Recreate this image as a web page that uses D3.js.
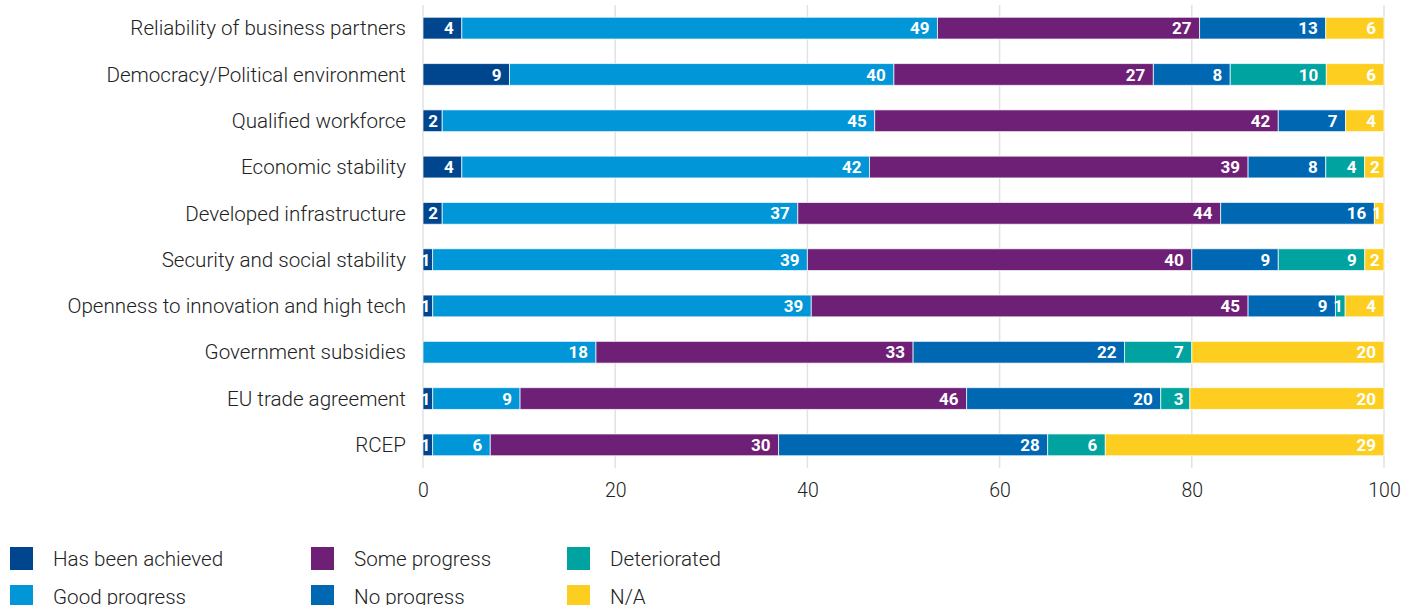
<!DOCTYPE html>
<html>
<head>
<meta charset="utf-8">
<script src="https://cdn.jsdelivr.net/npm/d3@7"></script>
<style>
  html, body { margin: 0; padding: 0; background: #fff; }
  svg { display: block; }
</style>
</head>
<body>
<svg id="chart" width="1416" height="605"></svg>
<script>
const categories = [
  "Reliability of business partners",
  "Democracy/Political environment",
  "Qualified workforce",
  "Economic stability",
  "Developed infrastructure",
  "Security and social stability",
  "Openness to innovation and high tech",
  "Government subsidies",
  "EU trade agreement",
  "RCEP"
];
const seriesNames = ["Has been achieved", "Good progress", "Some progress", "No progress", "Deteriorated", "N/A"];
const hasBeenAchieved = [4, 9, 2, 4, 2, 1, 1, 0, 1, 1];
const goodProgress    = [49, 40, 45, 42, 37, 39, 39, 18, 9, 6];
const someProgress    = [27, 27, 42, 39, 44, 40, 45, 33, 46, 30];
const noProgress      = [13, 8, 7, 8, 16, 9, 9, 22, 20, 28];
const deteriorated    = [0, 10, 0, 4, 0, 9, 1, 7, 3, 6];
const notApplicable   = [6, 6, 4, 2, 1, 2, 4, 20, 20, 29];
const tickValues = [0, 20, 40, 60, 80, 100];
const colors = ["#00468e", "#0096d7", "#6e2077", "#0068b2", "#00a3a0", "#fdce20"];

const seriesArrays = [hasBeenAchieved, goodProgress, someProgress, noProgress, deteriorated, notApplicable];
const rows = categories.map((c, i) => {
  const r = { category: c };
  seriesNames.forEach((s, j) => r[s] = seriesArrays[j][i]);
  return r;
});

const FONT = "Roboto, 'Liberation Sans', sans-serif";
const svg = d3.select("#chart");
const x = d3.scaleLinear().domain([0, 100]).range([423, 1384]);
const y = d3.scaleBand().domain(categories).range([5, 468]).paddingInner(0.53).paddingOuter(0.265);

const stack = d3.stack().keys(seriesNames).offset(d3.stackOffsetExpand);
const stacked = stack(rows);

// gridlines
svg.append("g").selectAll("line").data(tickValues).join("line")
  .attr("x1", d => x(d)).attr("x2", d => x(d))
  .attr("y1", 5).attr("y2", 468)
  .attr("stroke", "#e2e2e2").attr("stroke-width", 1.5);

// axis labels
const axis = d3.axisBottom(x).tickValues(tickValues).tickSize(0).tickPadding(0).tickFormat(d3.format("d"));
const ag = svg.append("g").attr("transform", "translate(0,480)").call(axis);
ag.select(".domain").remove();
ag.selectAll("text")
  .attr("font-family", FONT)
  .attr("font-weight", 300)
  .attr("font-size", 19.5)
  .attr("fill", "#222")
  .attr("dy", "0.85em");

// category labels
svg.append("g").selectAll("text").data(categories).join("text")
  .attr("x", 406)
  .attr("y", d => y(d) + y.bandwidth() / 2)
  .attr("dy", "0.35em")
  .attr("text-anchor", "end")
  .attr("font-family", FONT)
  .attr("font-weight", 300)
  .attr("font-size", 20.6)
  .attr("fill", "#222")
  .text(d => d);

// bars
const layers = svg.append("g").selectAll("g").data(stacked).join("g")
  .attr("fill", (d, i) => colors[i]);

layers.selectAll("rect").data(d => d.map(v => ({ v, key: d.key }))).join("rect")
  .filter(d => d.v[1] - d.v[0] > 0)
  .attr("x", d => x(d.v[0] * 100))
  .attr("width", d => x(d.v[1] * 100) - x(d.v[0] * 100))
  .attr("y", d => y(d.v.data.category))
  .attr("height", y.bandwidth())
  .attr("stroke", "#ffffff")
  .attr("stroke-opacity", 0.7)
  .attr("stroke-width", 1);

// value labels
layers.selectAll("text").data(d => d.map(v => ({ v, key: d.key }))).join("text")
  .filter(d => d.v.data[d.key] > 0)
  .attr("x", d => {
    const w = x(d.v[1] * 100) - x(d.v[0] * 100);
    return x(d.v[1] * 100) - Math.min(8, w * 0.22);
  })
  .attr("y", d => y(d.v.data.category) + y.bandwidth() / 2)
  .attr("dy", "0.36em")
  .attr("text-anchor", "end")
  .attr("font-family", FONT)
  .attr("font-weight", 700)
  .attr("font-size", 17)
  .attr("fill", "#ffffff")
  .text(d => d.v.data[d.key]);

// legend
const legendPos = [[10, 547], [10, 585], [311, 547], [311, 585], [567, 547], [567, 585]];
const legendOrder = ["Has been achieved", "Good progress", "Some progress", "No progress", "Deteriorated", "N/A"];
const lg = svg.append("g").selectAll("g").data(legendOrder).join("g")
  .attr("transform", (d, i) => `translate(${legendPos[i][0]},${legendPos[i][1]})`);
lg.append("rect").attr("width", 23).attr("height", 23)
  .attr("fill", d => colors[seriesNames.indexOf(d)]);
lg.append("text").attr("x", 43).attr("y", 11.5).attr("dy", "0.36em")
  .attr("font-family", FONT)
  .attr("font-weight", 300)
  .attr("font-size", 20.6)
  .attr("fill", "#222")
  .text(d => d);
</script>
</body>
</html>
